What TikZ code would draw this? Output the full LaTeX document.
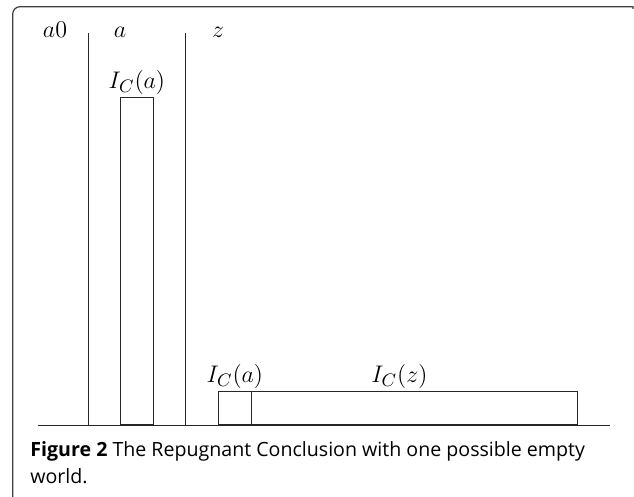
\documentclass[tikz,border=0pt]{standalone}
\usepackage{amsmath}
\usepackage{fontspec}
\newfontfamily\legendefont{Open Sans}
\usetikzlibrary{positioning}

\begin{document}
\begin{tikzpicture}[x=0.5pt, y=-0.5pt,
    etiq/.style={font=\fontsize{12.5}{15}\selectfont, inner sep=0pt},
    barre/.style={draw, black!85, inner sep=0pt, anchor=south west}]
    \useasboundingbox (0,0) rectangle (634,497);

    % Cadre
    \draw[line width=0.6pt, black!75] (12.7,497) -- (12.7,14) arc[start angle=180, end angle=270, radius=7.3] -- (633,6.7) -- (633,9);

    % Axe et separations
    \coordinate (axeG) at (38,425);
    \coordinate (axeD) at (610,425);
    \coordinate (sepA) at (88,33);
    \coordinate (sepZ) at (185,33);
    \draw[black!85] (axeG) -- (axeD);
    \draw[black!85] (sepA) -- (sepA |- axeG);
    \draw[black!85] (sepZ) -- (sepZ |- axeG);

    % Barres
    \node[barre, minimum width=16.5pt, minimum height=163.5pt] (haut) at (120,425) {};
    \node[barre, minimum width=16.5pt, minimum height=16.5pt] (basA) at (218,425) {};
    \node[barre, minimum width=163pt, minimum height=16.5pt] (basZ) at (251,425) {};

    % Etiquettes
    \node[etiq, anchor=base] (mA0) at (55,38) {$a0$};
    \node[etiq, anchor=base] (mA) at (120,38) {$a$};
    \node[etiq, anchor=base] (mZ) at (218,38) {$z$};
    \node[etiq, above=1.3pt of haut] (iHaut) {$I_C(a)$};
    \node[etiq, above=1.3pt of basA] (iBasA) {$I_C(a)$};
    \node[etiq, above=1.3pt of basZ, xshift=-7.5pt] (iBasZ) {$I_C(z)$};

    % Legende
    \node[anchor=base west, inner sep=0pt, align=left, font=\legendefont\fontsize{9.8}{13.5}\selectfont] (legende) at (30,484)
        {\textbf{Figure 2} The Repugnant Conclusion with one possible empty\\ world.};
\end{tikzpicture}
\end{document}
